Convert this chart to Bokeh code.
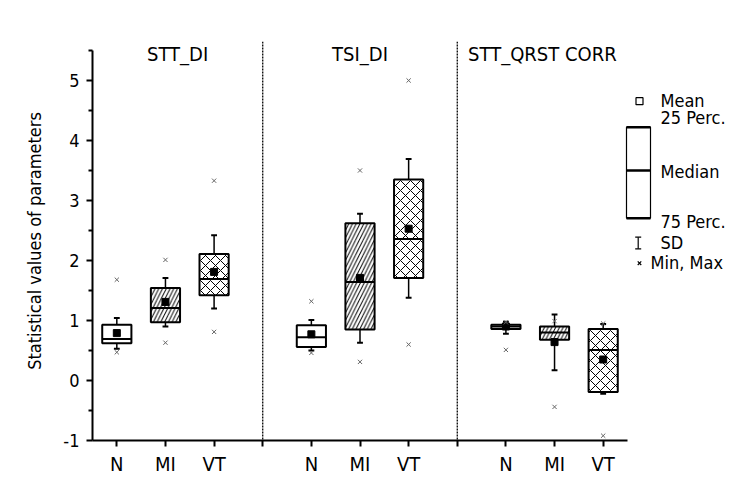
from bokeh.plotting import figure
from bokeh.models import FixedTicker, Span, Range1d
from bokeh.core.properties import value
from bokeh.embed import file_html
from bokeh.resources import INLINE

# ---------------- data ----------------
parameters = ["STT_DI", "TSI_DI", "STT_QRST CORR"]
groups = ["N", "MI", "VT"]

# order: STT_DI (N, MI, VT), TSI_DI (N, MI, VT), STT_QRST CORR (N, MI, VT)
box_top = [0.93, 1.54, 2.11, 0.92, 2.62, 3.35, 0.93, 0.90, 0.86]
box_bottom = [0.62, 0.97, 1.42, 0.56, 0.85, 1.71, 0.86, 0.68, -0.19]
median = [0.69, 1.21, 1.69, 0.72, 1.64, 2.36, 0.90, 0.80, 0.51]
mean = [0.79, 1.31, 1.81, 0.77, 1.71, 2.53, 0.90, 0.64, 0.35]
sd_low = [0.53, 0.90, 1.20, 0.50, 0.63, 1.38, 0.78, 0.17, -0.22]
sd_high = [1.04, 1.71, 2.42, 1.01, 2.78, 3.69, 0.98, 1.10, 0.94]
v_min = [0.47, 0.63, 0.81, 0.46, 0.31, 0.60, 0.51, -0.44, -0.92]
v_max = [1.68, 2.01, 3.33, 1.32, 3.50, 5.00, 0.97, 0.99, 0.95]

y_ticks = [-1, 0, 1, 2, 3, 4, 5]
legend_labels = ["Mean", "25 Perc.", "Median", "75 Perc.", "SD", "Min, Max"]

FONT = "DejaVu Sans Condensed"

# ---------------- layout helpers ----------------
xs = []
grp = []
for pi in range(len(parameters)):
    for gi, g in enumerate(groups):
        xs.append(4 * pi + gi + 1)
        grp.append(g)
dividers = [4 * pi for pi in range(1, len(parameters))]
x_lo, x_hi = 0.5, 4 * len(parameters) - 0.5
bounds = [x_lo] + dividers + [x_hi]
title_x = [(bounds[i] + bounds[i + 1]) / 2 for i in range(len(parameters))]

W, H = 735, 480
LEFT, TOP, BOTTOM = 92, 41, 40
axis_px = 535                      # pixel length of the drawn x axis
frame_w = W - LEFT
x_end = x_lo + (x_hi - x_lo) * frame_w / axis_px

p = figure(width=W, height=H, x_range=Range1d(x_lo, x_end), y_range=Range1d(-1, 5.65),
           output_backend="svg", toolbar_location=None,
           min_border_left=LEFT, min_border_right=0, min_border_top=TOP, min_border_bottom=BOTTOM)
p.outline_line_color = None
p.xgrid.visible = False
p.ygrid.visible = False
p.background_fill_color = "white"
# pixel-like ranges for the key on the right
p.extra_x_ranges = {"kx": Range1d(LEFT, W)}
p.extra_y_ranges = {"ky": Range1d(H - BOTTOM, TOP)}

# axes
p.xaxis.ticker = FixedTicker(ticks=xs + dividers)
overrides = {x: g for x, g in zip(xs, grp)}
for d in dividers:
    overrides[d] = ""
p.xaxis.major_label_overrides = overrides
p.xaxis.bounds = (x_lo, x_hi)
p.xaxis.minor_tick_line_color = None
p.xaxis.major_tick_out = 6
p.xaxis.major_tick_in = 0
p.xaxis.major_label_standoff = 5
p.xaxis.major_label_text_font = FONT
p.xaxis.major_label_text_font_size = "20px"
p.xaxis.major_label_text_color = "black"
p.xaxis.axis_line_width = 2
p.xaxis.major_tick_line_width = 2

minor = [t + 0.5 for t in y_ticks]
p.yaxis.ticker = FixedTicker(ticks=y_ticks, minor_ticks=minor)
p.yaxis.major_label_overrides = {t: str(t) for t in y_ticks}
p.yaxis.bounds = (-1, 5.5)
p.yaxis.major_tick_out = 6
p.yaxis.major_tick_in = 0
p.yaxis.minor_tick_out = 4
p.yaxis.minor_tick_in = 0
p.yaxis.major_label_standoff = 7
p.yaxis.major_label_text_font = FONT
p.yaxis.major_label_text_font_size = "18px"
p.yaxis.major_label_text_color = "black"
p.yaxis.axis_line_width = 2
p.yaxis.major_tick_line_width = 2
p.yaxis.minor_tick_line_width = 2
p.yaxis.axis_label = "Statistical values of parameters"
p.yaxis.axis_label_text_font = FONT
p.yaxis.axis_label_text_font_size = "18px"
p.yaxis.axis_label_text_font_style = "normal"
p.yaxis.axis_label_text_color = "black"
p.yaxis.axis_label_standoff = 15

for d in dividers:
    p.add_layout(Span(location=d, dimension="height", line_color="black",
                      line_width=1.3, line_dash="2 1"))

# whiskers (SD)
cap = 0.06
p.segment(x0=xs, y0=sd_low, x1=xs, y1=sd_high, line_color="black", line_width=1.5)
p.segment(x0=[x - cap for x in xs], y0=sd_high, x1=[x + cap for x in xs], y1=sd_high,
          line_color="black", line_width=2)
p.segment(x0=[x - cap for x in xs], y0=sd_low, x1=[x + cap for x in xs], y1=sd_low,
          line_color="black", line_width=2)

# boxes
hatch = {"N": (" ", 8), "MI": ("/", 7.5), "VT": ("x", 10)}
for g in groups:
    idx = [i for i, gg in enumerate(grp) if gg == g]
    pat, sc = hatch[g]
    p.vbar(x=[xs[i] for i in idx], width=0.6,
           top=[box_top[i] for i in idx], bottom=[box_bottom[i] for i in idx],
           fill_color="white", line_color="black", line_width=2,
           hatch_pattern=pat, hatch_scale=sc, hatch_color="black", hatch_weight=1)

# median
p.segment(x0=[x - 0.3 for x in xs], y0=median, x1=[x + 0.3 for x in xs], y1=median,
          line_color="black", line_width=2)

# mean
p.scatter(x=xs, y=mean, marker="square", size=7, fill_color="black", line_color="black")

# min / max
p.scatter(x=xs, y=v_min, marker="x", size=6, line_color="#666666", line_width=1)
p.scatter(x=xs, y=v_max, marker="x", size=6, line_color="#666666", line_width=1)

# panel titles
p.text(x=title_x, y=[5.44] * len(parameters), text=parameters,
       text_font=value(FONT), text_font_size="20px", text_color="black",
       text_align="center", text_baseline="middle")

# ---------------- key (pixel-like coordinates) ----------------
K = dict(x_range_name="kx", y_range_name="ky")
p.scatter(x=[639], y=[100.7], marker="square", size=7, fill_color="white",
          line_color="black", line_width=1.2, **K)
p.quad(left=[626], right=[650], top=[126.7], bottom=[217.7], fill_color="white",
       line_color="black", line_width=1.2, **K)
p.segment(x0=[626, 626, 626], y0=[126.7, 170, 217.7], x1=[650, 650, 650], y1=[126.7, 170, 217.7],
          line_color="black", line_width=2.5, **K)
p.segment(x0=[637.7, 634.7, 634.7], y0=[236.7, 236.7, 248.3], x1=[637.7, 640.7, 640.7],
          y1=[248.3, 236.7, 248.3], line_color="black", line_width=1.2, **K)
p.scatter(x=[639], y=[262.7], marker="x", size=5, line_color="black", line_width=1.2, **K)
p.text(x=[660, 660, 660, 660, 660, 650], y=[100, 117, 170.7, 220.7, 242, 261.7],
       text=legend_labels, text_font=value(FONT), text_font_size="18px", text_color="black",
       text_align="left", text_baseline="middle", **K)

open("out.html", "w").write(file_html(p, INLINE))
